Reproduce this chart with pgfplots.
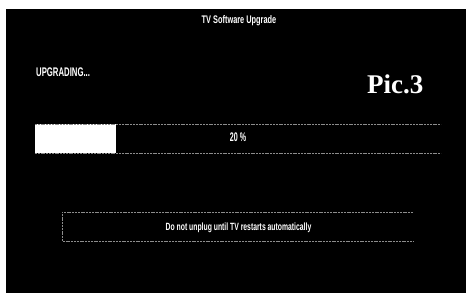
\documentclass[border=0pt]{standalone}
\usepackage{fontspec}
\setmainfont{Liberation Sans}
\newfontfamily\picfont{Liberation Serif}
\usepackage{graphicx}
\usepackage{pgfplots}
\pgfplotsset{compat=1.18}
\begin{document}
\begin{tikzpicture}
\begin{axis}[
  scale only axis, width=466bp, height=293bp,
  xmin=0, xmax=466, ymin=0, ymax=293, y dir=reverse,
  hide axis, clip=false]
% white scan margin and black screen
\addplot[fill=white, draw=none] coordinates {(0,0)(466,0)(466,293)(0,293)} -- cycle;
\addplot[fill=black, draw=none] coordinates {(6,9)(466,9)(466,293)(6,293)} -- cycle;
% dotted message box
\addplot[gray!90, line width=0.9bp, dash pattern=on 2bp off 0.8bp] coordinates {(413,212)(62,212)(62,241)(413,241)};
\node[anchor=base, text=white, inner sep=0pt, font=\fontsize{11bp}{13bp}\selectfont\bfseries] at (axis cs:239,23.5) {\scalebox{0.67}[1]{TV Software Upgrade}};
\node[anchor=base west, text=white, inner sep=0pt, font=\fontsize{12.5bp}{14bp}\selectfont\bfseries] at (axis cs:36,76.5) {\scalebox{0.62}[1]{UPGRADING...}};
\node[anchor=base west, text=white, inner sep=0pt, font=\fontsize{27bp}{30bp}\selectfont\picfont\bfseries] at (axis cs:367,93.5) {Pic.3};
\node[anchor=base, text=white, inner sep=0pt, font=\fontsize{10.5bp}{12bp}\selectfont\bfseries] at (axis cs:238.5,230) {\scalebox{0.65}[1]{Do not unplug until TV restarts automatically}};
\coordinate (pb) at (axis cs:35,153);
\end{axis}
\begin{axis}[
  at={(pb)}, anchor=south west,
  scale only axis, width=406bp, height=29bp,
  xmin=0, xmax=100, ymin=0, ymax=1,
  hide axis, clip=false]
\addplot[xbar, fill=white, draw=none, bar width=29bp] coordinates {(20,0.5)};
\addplot[gray!90, line width=0.9bp, dash pattern=on 2bp off 0.8bp] coordinates {(0,1)(100,1)};
\addplot[gray!90, line width=0.9bp, dash pattern=on 2bp off 0.8bp] coordinates {(0,0)(100,0)};
\node[anchor=base, text=white, inner sep=0pt, font=\fontsize{12.5bp}{14bp}\selectfont\bfseries] at (axis cs:50,0.38) {\scalebox{0.57}[1]{20 \%}};
\end{axis}
\end{tikzpicture}
\end{document}
